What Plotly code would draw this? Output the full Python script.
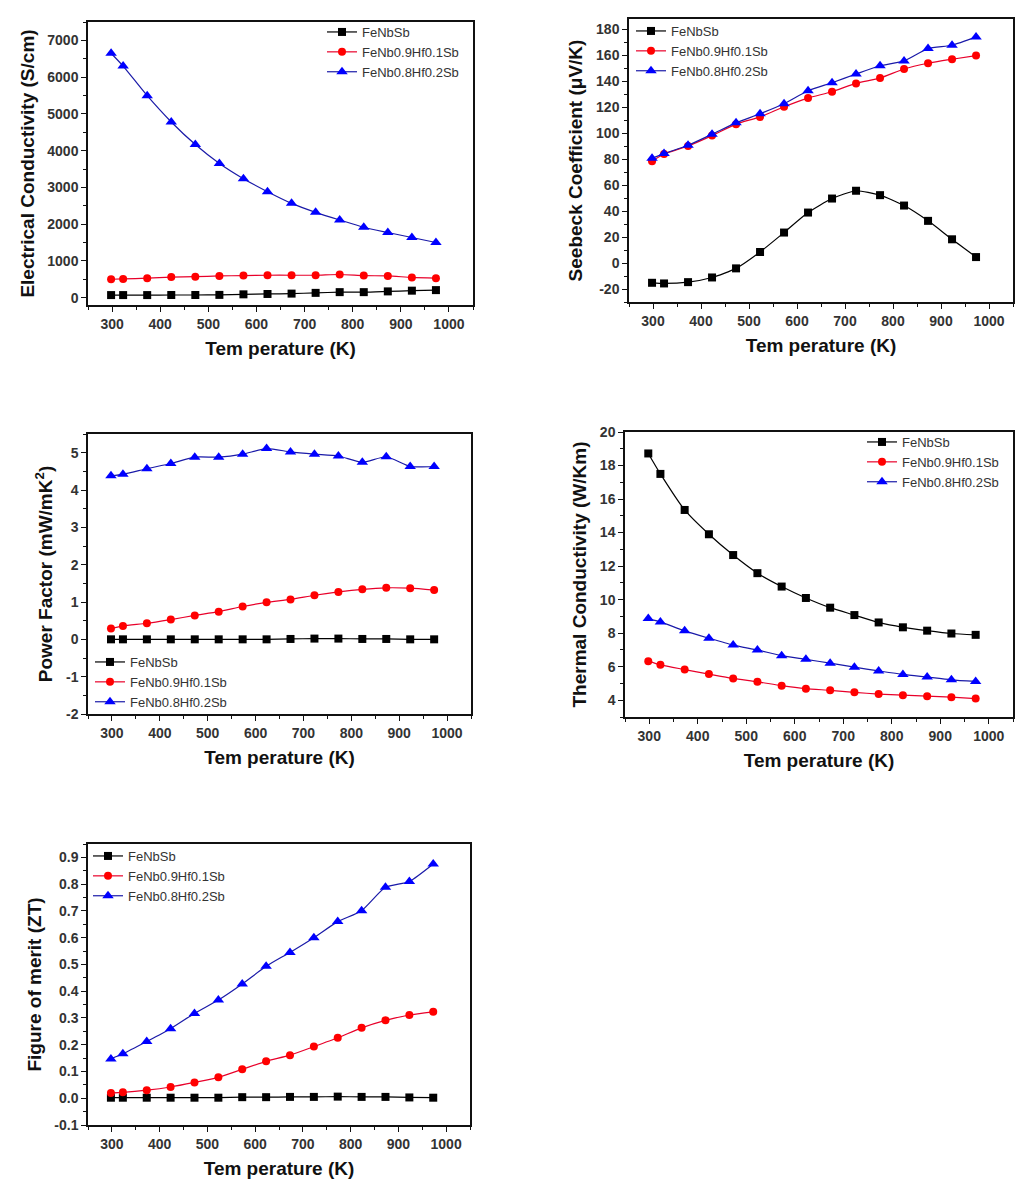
import plotly.graph_objects as go

# ---------------- data ----------------
T = [298, 323, 373, 423, 473, 523, 573, 623, 673, 723, 773, 823, 873, 923, 973]
names = ["FeNbSb", "FeNb0.9Hf0.1Sb", "FeNb0.8Hf0.2Sb"]

ec_fenbsb = [70, 70, 70, 72, 72, 75, 90, 100, 110, 130, 150, 150, 170, 190, 205]
ec_hf01 = [500, 510, 530, 560, 570, 590, 600, 610, 610, 610, 630, 600, 590, 550, 530]
ec_hf02 = [6650, 6300, 5495, 4780, 4165, 3650, 3236, 2883, 2566, 2322, 2114, 1916, 1772, 1636, 1500]

s_fenbsb = [-15.2, -15.7, -14.7, -11.1, -4.1, 8.5, 23.5, 38.9, 49.7, 55.7, 52.3, 44.3, 32.5, 18.3, 4.6]
s_hf01 = [78.5, 84.0, 90.2, 98.2, 107.0, 112.6, 120.4, 127.1, 132.0, 138.4, 142.5, 149.5, 153.9, 157.0, 159.8]
s_hf02 = [80.7, 84.3, 90.7, 99.2, 108.0, 115.0, 122.7, 132.7, 138.9, 145.6, 152.0, 155.7, 165.2, 167.8, 174.2]

pf_fenbsb = [0.0, 0.0, 0.0, 0.0, 0.0, 0.0, 0.0, 0.0, 0.01, 0.02, 0.02, 0.01, 0.01, 0.0, 0.0]
pf_hf01 = [0.29, 0.36, 0.43, 0.53, 0.64, 0.74, 0.88, 0.99, 1.07, 1.18, 1.27, 1.34, 1.38, 1.37, 1.32]
pf_hf02 = [4.38, 4.42, 4.57, 4.71, 4.88, 4.88, 4.96, 5.11, 5.02, 4.96, 4.91, 4.74, 4.89, 4.63, 4.63]

k_fenbsb = [18.72, 17.5, 15.35, 13.9, 12.66, 11.58, 10.78, 10.1, 9.52, 9.08, 8.64, 8.35, 8.15, 7.98, 7.9]
k_hf01 = [6.33, 6.11, 5.83, 5.56, 5.30, 5.10, 4.87, 4.69, 4.59, 4.47, 4.37, 4.30, 4.24, 4.18, 4.10]
k_hf02 = [8.87, 8.67, 8.14, 7.70, 7.29, 7.00, 6.66, 6.44, 6.21, 5.97, 5.75, 5.54, 5.38, 5.22, 5.12]

zt_fenbsb = [0.002, 0.002, 0.002, 0.002, 0.002, 0.002, 0.004, 0.004, 0.005, 0.005, 0.006, 0.005, 0.005, 0.003, 0.002]
zt_hf01 = [0.020, 0.022, 0.030, 0.042, 0.059, 0.078, 0.108, 0.138, 0.161, 0.193, 0.226, 0.263, 0.291, 0.311, 0.323]
zt_hf02 = [0.147, 0.166, 0.212, 0.260, 0.317, 0.367, 0.427, 0.493, 0.545, 0.600, 0.660, 0.701, 0.788, 0.810, 0.875]

# tick labels
x_ticks = [300, 400, 500, 600, 700, 800, 900, 1000]
x_ticklabels = ["300", "400", "500", "600", "700", "800", "900", "1000"]
ec_ticks = [0, 1000, 2000, 3000, 4000, 5000, 6000, 7000]
ec_ticklabels = ["0", "1000", "2000", "3000", "4000", "5000", "6000", "7000"]
s_ticks = [-20, 0, 20, 40, 60, 80, 100, 120, 140, 160, 180]
s_ticklabels = ["-20", "0", "20", "40", "60", "80", "100", "120", "140", "160", "180"]
pf_ticks = [-2, -1, 0, 1, 2, 3, 4, 5]
pf_ticklabels = ["-2", "-1", "0", "1", "2", "3", "4", "5"]
k_ticks = [4, 6, 8, 10, 12, 14, 16, 18, 20]
k_ticklabels = ["4", "6", "8", "10", "12", "14", "16", "18", "20"]
zt_ticks = [-0.1, 0.0, 0.1, 0.2, 0.3, 0.4, 0.5, 0.6, 0.7, 0.8, 0.9]
zt_ticklabels = ["-0.1", "0.0", "0.1", "0.2", "0.3", "0.4", "0.5", "0.6", "0.7", "0.8", "0.9"]

# ---------------- layout helpers ----------------
W, H = 1032, 1191
colors = ["#000000", "#ff0000", "#0000ff"]
line_colors = ["#000000", "#e8002a", "#1a1aa8"]
symbols = ["square", "circle", "triangle-up"]
msizes = [8, 8, 10]

def fx(px):
    return px / W

def fy(px):
    return 1 - px / H

panels = [
    ((ec_fenbsb, ec_hf01, ec_hf02), (88, 473), (22, 305), [-200, 7500], 500,
     ec_ticks, ec_ticklabels, "Electrical Conductivity (S/cm)", (322, 17)),
    ((s_fenbsb, s_hf01, s_hf02), (629, 1013), (19, 302), [-30, 188], 10,
     s_ticks, s_ticklabels, "Seebeck Coefficient (\u03bcV/K)", (631, 16)),
    ((pf_fenbsb, pf_hf01, pf_hf02), (88, 471), (434, 714), [-2, 5.5], 0.5,
     pf_ticks, pf_ticklabels, "Power Factor (mW/mK<sup>2</sup>)", (90, 647)),
    ((k_fenbsb, k_hf01, k_hf02), (625, 1013), (432, 717), [3, 20], 1,
     k_ticks, k_ticklabels, "Thermal Conductivity (W/Km)", (862, 427)),
    ((zt_fenbsb, zt_hf01, zt_hf02), (88, 470), (844, 1125), [-0.1, 0.95], 0.05,
     zt_ticks, zt_ticklabels, "Figure of merit (ZT)", (88, 841)),
]

fig = go.Figure()
layout = dict(
    width=W, height=H, margin=dict(l=0, r=0, t=0, b=0, pad=0, autoexpand=False),
    paper_bgcolor="white", plot_bgcolor="white", showlegend=True,
    font=dict(family="Liberation Sans, Arial, sans-serif", color="#222"),
)

for i, (series, (x0, x1), (y0, y1), yr, mdt, yt, ytl, ytitle, (lx, ly)) in enumerate(panels):
    n = i + 1
    xa = "x" if n == 1 else f"x{n}"
    ya = "y" if n == 1 else f"y{n}"
    leg = "legend" if n == 1 else f"legend{n}"
    for j, vals in enumerate(series):
        fig.add_trace(go.Scatter(
            x=T, y=vals, name=names[j], mode="lines+markers",
            xaxis=xa, yaxis=ya, legend=leg,
            line=dict(color=line_colors[j], width=1.2, shape="spline", smoothing=0.6),
            marker=dict(symbol=symbols[j], size=msizes[j], color=colors[j]),
        ))
    axis_common = dict(
        showline=True, linecolor="#111", linewidth=1.5, mirror=True,
        ticks="outside", ticklen=5, tickwidth=1.2, tickcolor="#111",
        showgrid=False, zeroline=False, automargin=False,
        tickfont=dict(size=14, color="#333", weight="bold"),
    )
    layout["xaxis" if n == 1 else f"xaxis{n}"] = dict(
        axis_common, domain=[fx(x0), fx(x1)], anchor=ya,
        range=[250, 1050], tickmode="array", tickvals=x_ticks, ticktext=x_ticklabels,
        minor=dict(ticks="outside", ticklen=3, tickcolor="#111", dtick=50, tick0=250),
        title=dict(text="Tem perature (K)", standoff=11,
                   font=dict(size=19, color="#111", weight="bold")),
    )
    layout["yaxis" if n == 1 else f"yaxis{n}"] = dict(
        axis_common, domain=[fy(y1), fy(y0)], anchor=xa,
        range=yr, tickmode="array", tickvals=yt, ticktext=ytl,
        minor=dict(ticks="outside", ticklen=3, tickcolor="#111", dtick=mdt, tick0=0),
        title=dict(text=ytitle, standoff=8,
                   font=dict(size=19, color="#111", weight="bold")),
    )
    layout[leg] = dict(
        x=fx(lx), y=fy(ly), xanchor="left", yanchor="top",
        bgcolor="rgba(0,0,0,0)", borderwidth=0,
        font=dict(size=13, color="#333"), tracegroupgap=0,
        itemwidth=30,
    )

fig.update_layout(**layout)
fig.write_html("out.html", config={"displayModeBar": False},
               post_script="document.body.style.margin='0';")
